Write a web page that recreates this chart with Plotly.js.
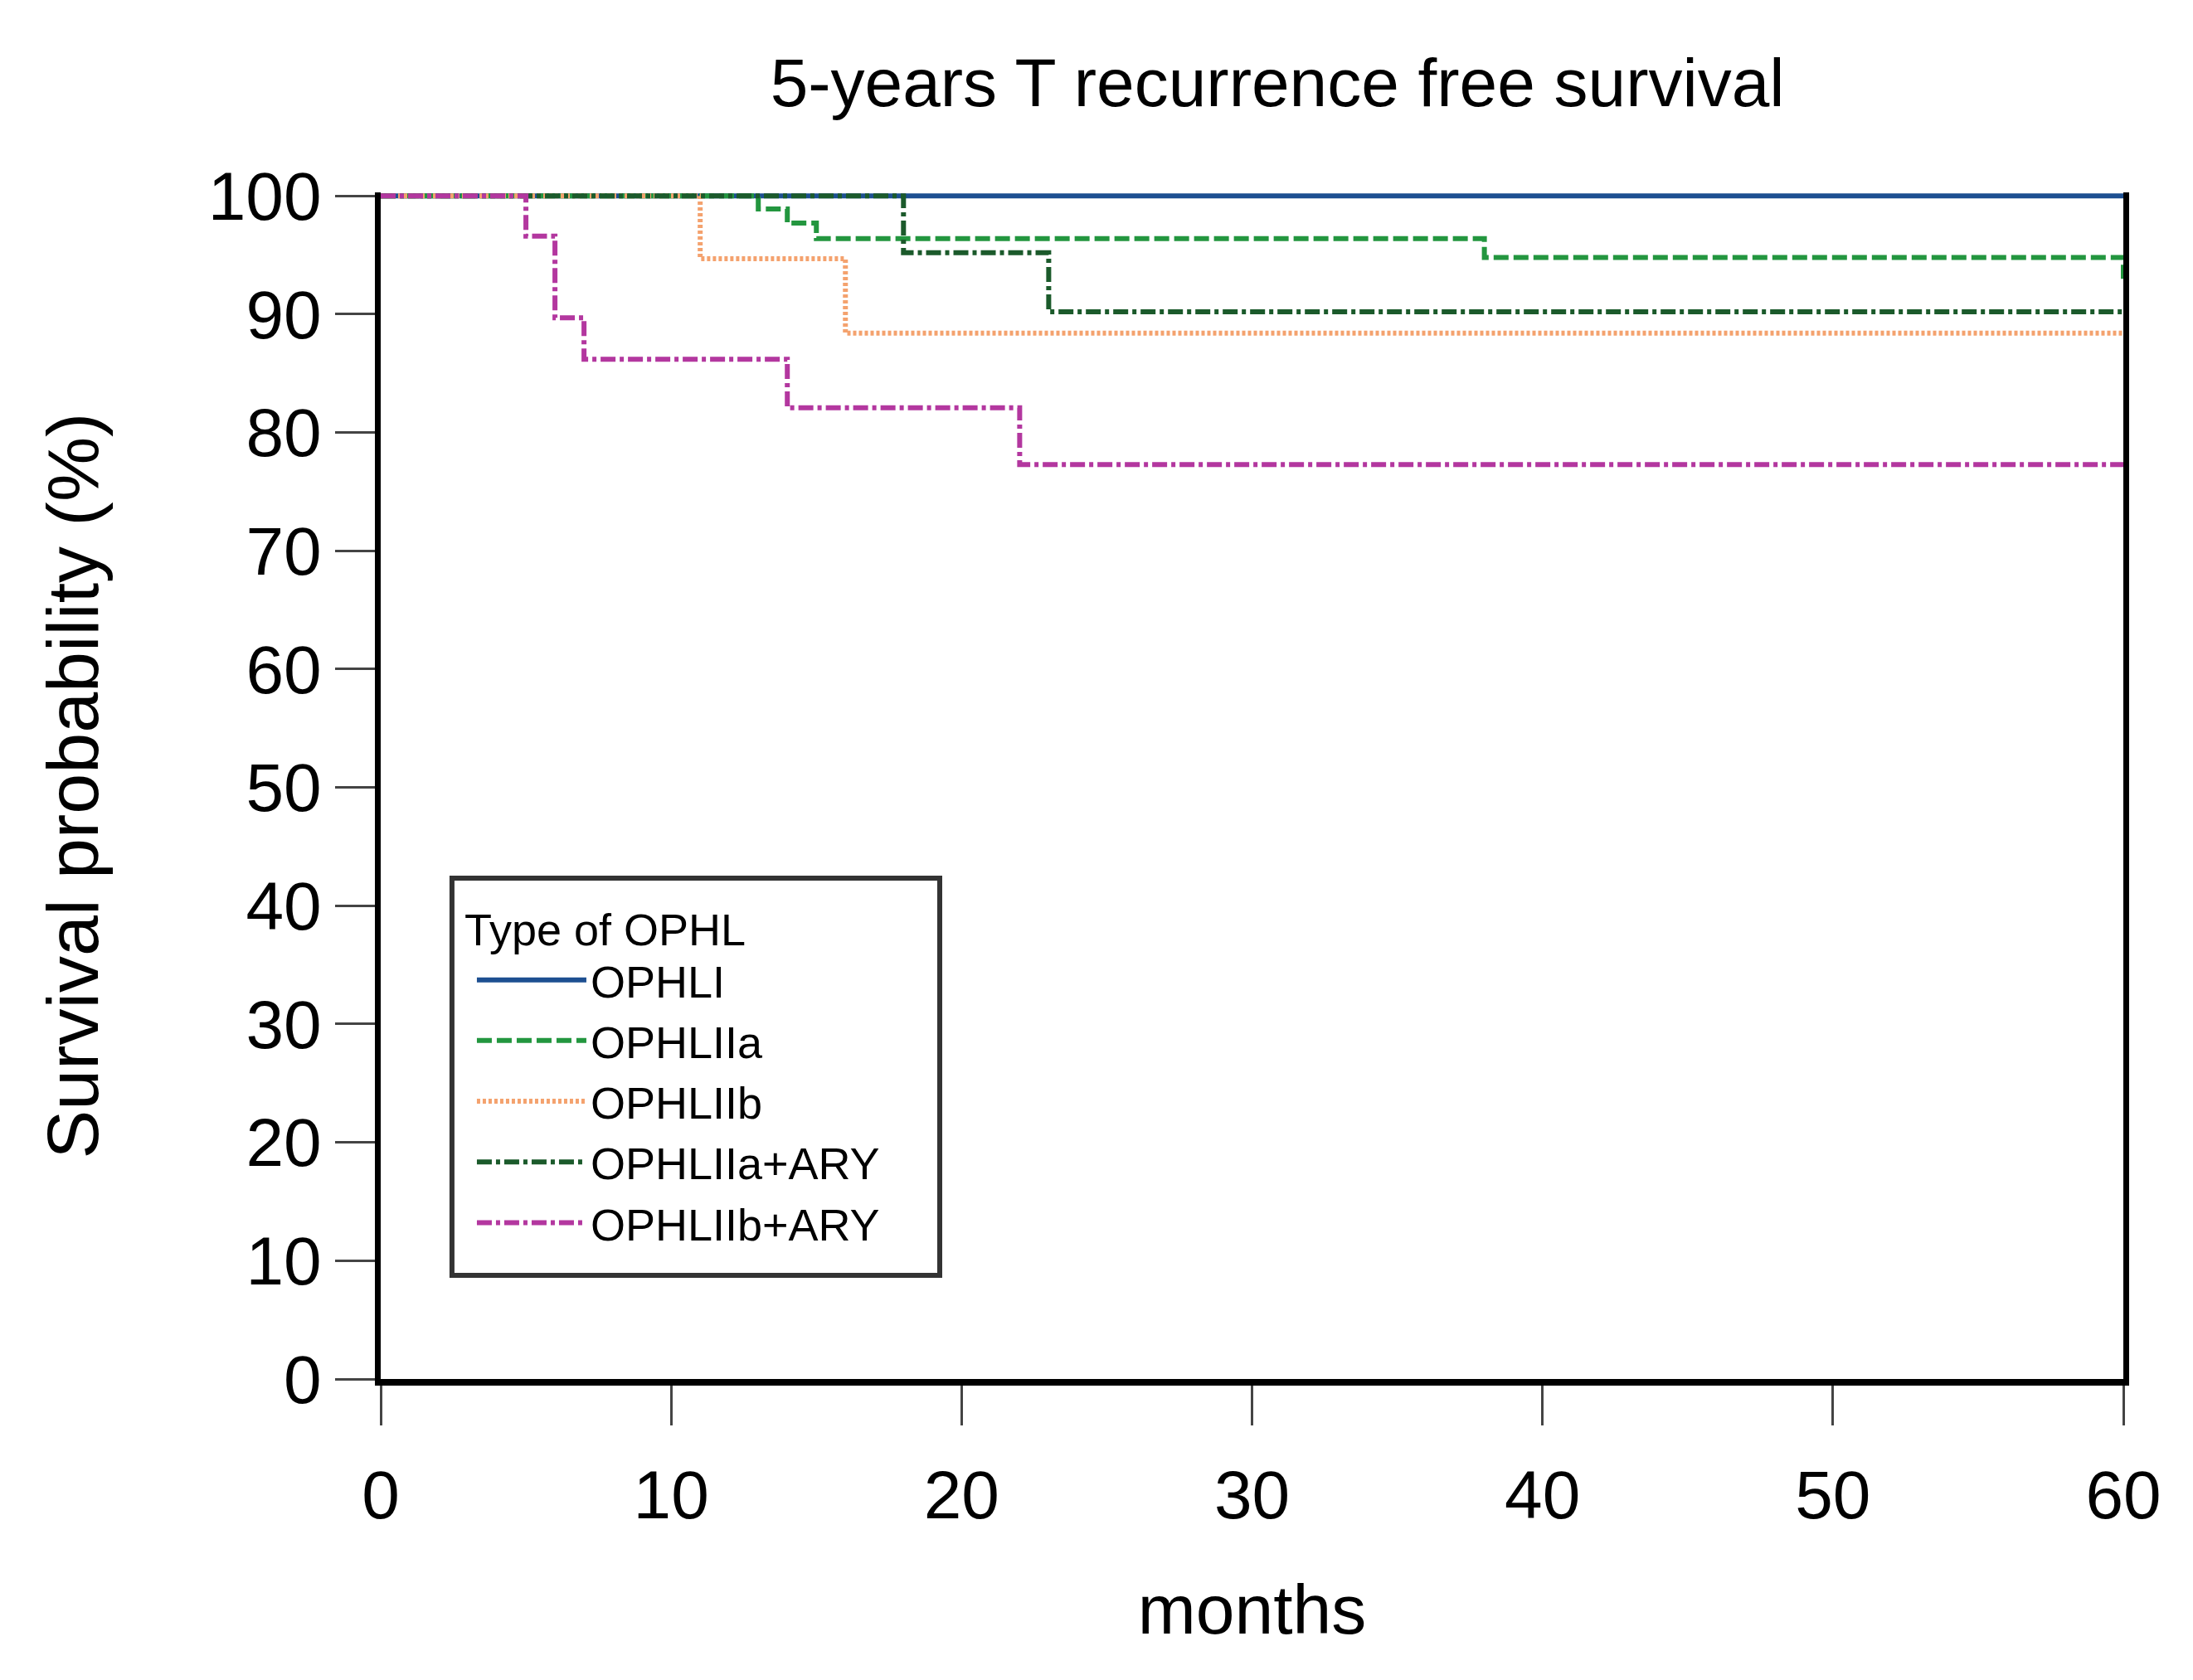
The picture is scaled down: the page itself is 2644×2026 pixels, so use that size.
<!DOCTYPE html>
<html>
<head>
<meta charset="utf-8">
<script src="https://cdn.plot.ly/plotly-3.0.1.min.js"></script>
<style>
html,body{margin:0;padding:0;background:#fff;}
#chart{width:2644px;height:2026px;}
</style>
</head>
<body>
<div id="chart"></div>
<script>
// Kaplan-Meier step data (months, survival %)
const groupNames = ["OPHLI", "OPHLIIa", "OPHLIIb", "OPHLIIa+ARY", "OPHLIIb+ARY"];

const monthsOPHLI = [0, 60];
const survOPHLI   = [100, 100];

const monthsOPHLIIa = [0, 13, 14, 15, 38, 60];
const survOPHLIIa   = [100, 98.9, 97.7, 96.4, 94.8, 93.0];

const monthsOPHLIIb = [0, 11, 16, 60];
const survOPHLIIb   = [100, 94.7, 88.4, 88.4];

const monthsOPHLIIaARY = [0, 18, 23, 60];
const survOPHLIIaARY   = [100, 95.2, 90.2, 90.2];

const monthsOPHLIIbARY = [0, 5, 6, 7, 14, 22, 60];
const survOPHLIIbARY   = [100, 96.6, 89.7, 86.2, 82.1, 77.3, 77.3];

const yTicks = [0, 10, 20, 30, 40, 50, 60, 70, 80, 90, 100];
const xTicks = [0, 10, 20, 30, 40, 50, 60];

const FONT = "Liberation Sans, Arial, Helvetica, sans-serif";

const styles = [
  {color: "#1d4f91", width: 6, dash: "solid"},
  {color: "#23963f", width: 6, dash: "18px,6px"},
  {color: "#f4a26e", width: 6, dash: "4px,3px"},
  {color: "#1b5a2b", width: 6, dash: "18px,5px,5px,5px"},
  {color: "#b3379f", width: 6, dash: "18px,5px,5px,5px"}
];

const xs = [monthsOPHLI, monthsOPHLIIa, monthsOPHLIIb, monthsOPHLIIaARY, monthsOPHLIIbARY];
const ys = [survOPHLI, survOPHLIIa, survOPHLIIb, survOPHLIIaARY, survOPHLIIbARY];

const traces = groupNames.map((name, i) => ({
  type: "scatter",
  mode: "lines",
  name: name,
  x: xs[i],
  y: ys[i],
  line: {shape: "hv", color: styles[i].color, width: styles[i].width, dash: styles[i].dash},
  hoverinfo: "x+y+name"
}));

const layout = {
  width: 2644,
  height: 2026,
  paper_bgcolor: "#ffffff",
  plot_bgcolor: "#ffffff",
  font: {family: FONT, color: "#000000", size: 54},
  margin: {l: 459, r: 84, t: 232, b: 363, pad: 0},
  title: {
    text: "5-years T recurrence free survival",
    font: {family: FONT, size: 82, color: "#000"},
    xref: "container", x: 0.5825, xanchor: "center",
    yref: "container", y: 0.951, yanchor: "middle"
  },
  xaxis: {
    range: [0, 60],
    tickvals: xTicks,
    ticktext: xTicks.map(String),
    ticks: "outside",
    ticklen: 48,
    tickwidth: 3,
    tickcolor: "#444",
    showline: true,
    linecolor: "#000",
    linewidth: 8,
    mirror: false,
    showgrid: false,
    zeroline: false,
    ticklabelstandoff: 14,
    tickfont: {family: FONT, size: 82, color: "#000"},
    title: {text: "months", font: {family: FONT, size: 84, color: "#000"}, standoff: 67}
  },
  yaxis: {
    range: [0, 100.3],
    tickvals: yTicks,
    ticktext: yTicks.map(String),
    ticks: "outside",
    ticklen: 48,
    tickwidth: 3,
    tickcolor: "#444",
    showline: true,
    linecolor: "#000",
    linewidth: 7,
    mirror: true,
    showgrid: false,
    zeroline: false,
    ticklabelstandoff: 0,
    tickfont: {family: FONT, size: 82, color: "#000"},
    title: {text: "Survival probability (%)", font: {family: FONT, size: 88, color: "#000"}, standoff: 105}
  },
  shapes: [{
    type: "rect", xref: "paper", yref: "paper",
    x0: 0.0409, x1: 0.3208, y0: 0.0874, y1: 0.4221,
    line: {color: "#333333", width: 6},
    fillcolor: "#ffffff",
    layer: "above"
  }],
  showlegend: true,
  legend: {
    x: 0.0471, y: 0.4145, xanchor: "left", yanchor: "top",
    bgcolor: "rgba(255,255,255,0)",
    borderwidth: 0,
    font: {family: FONT, size: 54, color: "#000"},
    title: {text: "Type of OPHL", font: {family: FONT, size: 54, color: "#000"}},
    itemwidth: 132,
    indentation: 12,
    tracegroupgap: 0
  }
};

Plotly.newPlot("chart", traces, layout, {staticPlot: true, displayModeBar: false});
</script>
</body>
</html>
